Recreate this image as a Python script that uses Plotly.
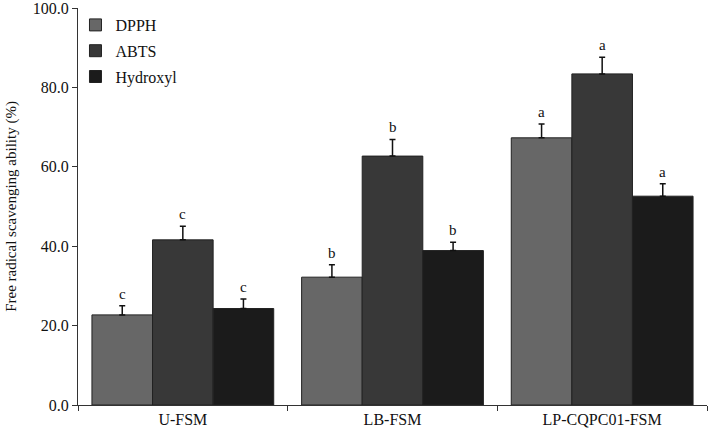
import plotly.graph_objects as go

categories = ["U-FSM", "LB-FSM", "LP-CQPC01-FSM"]
series_names = ["DPPH", "ABTS", "Hydroxyl"]
dpph = [22.7, 32.2, 67.3]
abts = [41.6, 62.7, 83.4]
hydroxyl = [24.3, 38.9, 52.6]
dpph_err = [2.3, 3.1, 3.5]
abts_err = [3.4, 4.2, 4.2]
hydroxyl_err = [2.4, 2.1, 3.1]
dpph_sig = ["c", "b", "a"]
abts_sig = ["c", "b", "a"]
hydroxyl_sig = ["c", "b", "a"]
y_ticks = [0, 20, 40, 60, 80, 100]

colors = ["#676767", "#383838", "#1b1b1b"]
values = [dpph, abts, hydroxyl]
errs = [dpph_err, abts_err, hydroxyl_err]
sigs = [dpph_sig, abts_sig, hydroxyl_sig]

FONT = "Liberation Serif"
fig = go.Figure()
for i, name in enumerate(series_names):
    fig.add_trace(go.Bar(
        x=categories, y=values[i], name=name, legendgroup=name,
        marker=dict(color=colors[i], line=dict(color="#222222", width=1)),
        error_y=dict(type="data", symmetric=False, array=errs[i],
                     arrayminus=[0] * len(categories), color="#111111",
                     thickness=1.5, width=3),
    ))

bargap = 0.133
bw = (1 - bargap) / 3
for i in range(3):
    for j, cat in enumerate(categories):
        fig.add_annotation(
            x=j + (i - 1) * bw, y=values[i][j] + errs[i][j], text=sigs[i][j],
            showarrow=False, yanchor="bottom", yshift=2,
            font=dict(family=FONT, size=15, color="#111111"),
        )

fig.update_layout(
    width=709, height=436,
    margin=dict(l=78, r=2, t=8, b=31),
    paper_bgcolor="white", plot_bgcolor="white",
    barmode="group", bargap=bargap, bargroupgap=0,
    font=dict(family=FONT, size=16, color="#111111"),
    showlegend=True,
    legend=dict(x=-0.004, y=1.0, xanchor="left", yanchor="top",
                traceorder="grouped", tracegroupgap=2,
                font=dict(family=FONT, size=16, color="#111111"),
                bgcolor="rgba(0,0,0,0)", itemwidth=30),
    xaxis=dict(showline=True, linecolor="#333333", linewidth=1,
               ticks="outside", tickson="boundaries", ticklen=5,
               tickcolor="#333333", showgrid=False, automargin=False,
               tickfont=dict(family=FONT, size=16)),
    yaxis=dict(range=[0, 100], tickvals=y_ticks,
               ticktext=[f"{v:.1f}" for v in y_ticks],
               showline=True, linecolor="#333333", linewidth=1,
               ticks="outside", ticklen=5, tickcolor="#333333",
               showgrid=False, zeroline=False, automargin=False,
               ticklabeloverflow="allow",
               title=dict(text="Free radical scavenging ability (%)",
                          font=dict(family=FONT, size=15), standoff=12),
               tickfont=dict(family=FONT, size=16)),
)

fig.write_html("out.html", config={"displayModeBar": False},
               post_script="document.body.style.margin='0';document.body.style.overflow='hidden';")
